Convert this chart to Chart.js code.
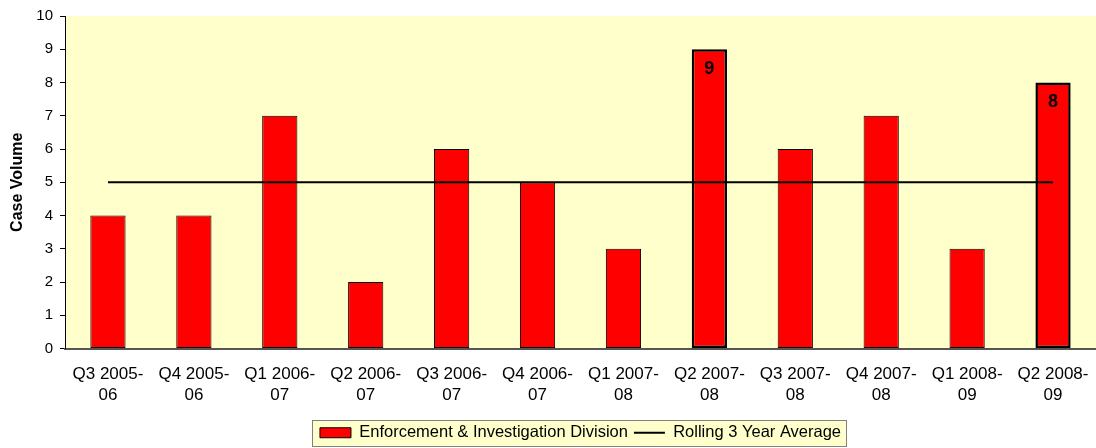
<!DOCTYPE html>
<html>
<head>
<meta charset="utf-8">
<script src="https://cdn.jsdelivr.net/npm/chart.js@4/dist/chart.umd.min.js"></script>
<style>
  html, body { margin: 0; padding: 0; background: #fff; }
  #wrap { width: 1096px; height: 448px; }
</style>
</head>
<body>
<div id="wrap"><canvas id="myChart" width="1096" height="448"></canvas></div>
<script>
// quarters on the x axis (two lines each)
let quarters = [
    ['Q3 2005-', '06'], ['Q4 2005-', '06'], ['Q1 2006-', '07'], ['Q2 2006-', '07'],
    ['Q3 2006-', '07'], ['Q4 2006-', '07'], ['Q1 2007-', '08'], ['Q2 2007-', '08'],
    ['Q3 2007-', '08'], ['Q4 2007-', '08'], ['Q1 2008-', '09'], ['Q2 2008-', '09']
];
let case_volume = [4, 4, 7, 2, 6, 5, 3, 9, 6, 7, 3, 8];
let rolling_avg = [5, 5, 5, 5, 5, 5, 5, 5, 5, 5, 5, 5];
// bars that get a value label
let labelled = [7, 11];
let y_ticks = [0, 1, 2, 3, 4, 5, 6, 7, 8, 9, 10];

const FONT = 'Liberation Sans, Arial, sans-serif';

// yellow plot area + box round the legend
const backgrounds = {
    id: 'backgrounds',
    beforeDraw(chart) {
        let ctx = chart.ctx;
        let a = chart.chartArea;
        ctx.save();
        ctx.fillStyle = '#ffffcc';
        ctx.fillRect(a.left, a.top, a.right - a.left, a.bottom - a.top);
        let lg = chart.legend;
        if (lg && lg.legendHitBoxes && lg.legendHitBoxes.length) {
            let hb = lg.legendHitBoxes;
            let last = hb[hb.length - 1];
            let x0 = Math.round(hb[0].left - 8);
            let x1 = Math.round(last.left + last.width + 5);
            let yc = hb[0].top + hb[0].height / 2;
            let y0 = Math.round(yc - 13);
            ctx.fillStyle = '#ffffcc';
            ctx.fillRect(x0, y0, x1 - x0, 26);
            ctx.strokeStyle = '#808080';
            ctx.lineWidth = 1;
            ctx.strokeRect(x0 + 0.5, y0 + 0.5, x1 - x0, 26);
        }
        ctx.restore();
    }
};

// value labels inside the highlighted bars
const valueLabels = {
    id: 'valueLabels',
    afterDatasetsDraw(chart) {
        let ctx = chart.ctx;
        let meta = chart.getDatasetMeta(0);
        ctx.save();
        ctx.font = 'bold 18px ' + FONT;
        ctx.fillStyle = '#000';
        ctx.textAlign = 'center';
        ctx.textBaseline = 'middle';
        labelled.forEach(i => {
            let bar = meta.data[i];
            ctx.fillText(String(case_volume[i]), bar.x, bar.y + 20);
        });
        ctx.restore();
    }
};

let ctx = document.getElementById('myChart').getContext('2d');
let chart = new Chart(ctx, {
    type: 'bar',
    data: {
        labels: quarters,
        datasets: [
            {
                type: 'bar',
                label: 'Enforcement & Investigation Division',
                data: case_volume,
                backgroundColor: '#ff0000',
                borderColor: '#000000',
                borderWidth: case_volume.map((v, i) => labelled.includes(i) ? 2.5 : 1),
                borderSkipped: false,
                barPercentage: 0.41,
                categoryPercentage: 1,
                pointStyle: 'rect',
                order: 2
            },
            {
                type: 'line',
                label: 'Rolling 3 Year Average',
                data: rolling_avg,
                borderColor: '#000000',
                backgroundColor: '#000000',
                borderWidth: 2,
                pointRadius: 0,
                pointStyle: 'line',
                fill: false,
                order: 1
            }
        ]
    },
    options: {
        responsive: false,
        animation: false,
        layout: { padding: { top: 14, right: 0, left: 0, bottom: -3 } },
        plugins: {
            tooltip: { enabled: false },
            legend: {
                position: 'bottom',
                fullSize: false,
                labels: {
                    usePointStyle: true,
                    pointStyleWidth: 31,
                    boxHeight: 10,
                    padding: 6,
                    color: '#000',
                    font: { family: FONT, size: 16.5 },
                    sort: (a, b) => a.datasetIndex - b.datasetIndex
                }
            }
        },
        scales: {
            x: {
                grid: { display: false, drawTicks: false },
                border: { color: '#555555', width: 2 },
                ticks: {
                    color: '#000',
                    padding: 15,
                    maxRotation: 0,
                    autoSkip: false,
                    font: { family: FONT, size: 17, lineHeight: 1.24 }
                },
                afterFit(scale) {
                    scale.height = 70;
                    // plot runs to the right edge of the canvas
                    scale.paddingRight = 0;
                    scale.paddingLeft = 0;
                }
            },
            y: {
                min: 0,
                max: 10,
                afterBuildTicks(scale) { scale.ticks = y_ticks.map(v => ({ value: v })); },
                grid: { drawOnChartArea: false, drawTicks: true, tickLength: 5, color: '#000' },
                border: { color: '#000', width: 1 },
                ticks: {
                    color: '#000',
                    padding: 7,
                    font: { family: FONT, size: 15 }
                },
                title: {
                    display: true,
                    text: 'Case Volume',
                    color: '#000',
                    padding: { top: 8, bottom: 0 },
                    font: { family: FONT, size: 16, weight: 'bold' }
                },
                afterFit(scale) { scale.width = 65; }
            }
        }
    },
    plugins: [backgrounds, valueLabels]
});
</script>
</body>
</html>
